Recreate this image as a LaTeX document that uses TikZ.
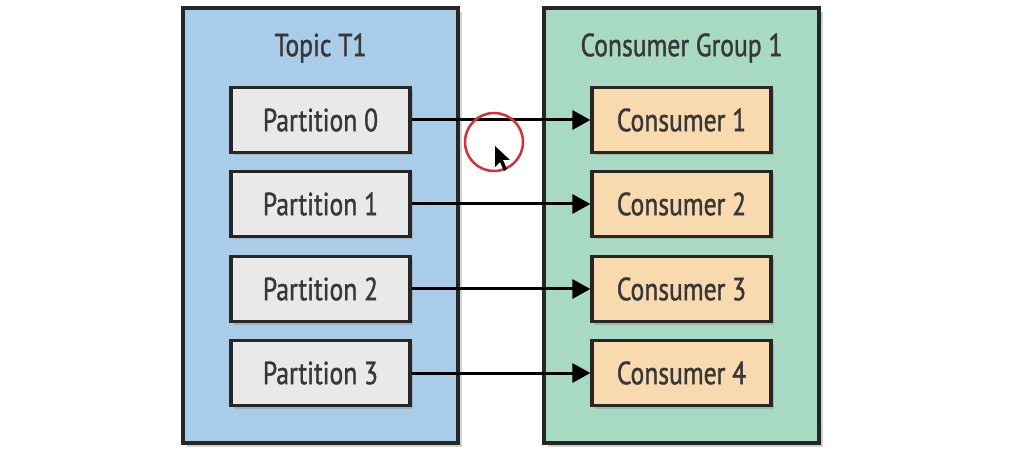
\documentclass[tikz,border=0pt]{standalone}
\usepackage{fontspec}
\setmainfont[FakeStretch=0.8,FakeBold=1.2]{PT Sans}
\usetikzlibrary{shadows,arrows.meta}
\definecolor{topicblue}{HTML}{A9CDE9}
\definecolor{groupgreen}{HTML}{A8D9C2}
\definecolor{partgrey}{HTML}{E9E9E9}
\definecolor{consorange}{HTML}{F9D9AE}
\definecolor{texto}{HTML}{383838}
\definecolor{marca}{HTML}{D8303A}
\begin{document}
\begin{tikzpicture}[x=1pt,y=-1pt,
    grupo/.style={draw=black!85, line width=3.4pt, minimum width=275pt, minimum height=435pt,
      drop shadow={shadow xshift=4pt, shadow yshift=-4pt, opacity=0.35}},
    caja/.style={draw=black!85, line width=3.2pt, minimum width=179pt, minimum height=65pt,
      text=texto, font=\fontsize{32}{34}\selectfont,
      drop shadow={shadow xshift=3pt, shadow yshift=-3pt, opacity=0.35}},
    titulo/.style={text=texto, font=\fontsize{32}{34}\selectfont},
    flecha/.style={draw=black, line width=3pt, -{Triangle[length=18pt,width=19pt]}}]
  \useasboundingbox[fill=white] (0,0) rectangle (1036,462);

  % cajas exteriores
  \node[grupo, fill=topicblue] (topic) at (320.5,225.5) {};
  \node[grupo, fill=groupgreen] (group) at (681.5,225.5) {};
  \node[titulo] (ttopic) at (320.5,48) {Topic T1};
  \node[titulo] (tgroup) at (681.5,48) {Consumer Group 1};

  % particiones y consumidores
  \foreach \i/\y in {0/120,1/204,2/289,3/373} {
    \node[caja, fill=partgrey] (p\i) at (320.5,\y) {Partition \i};
    \pgfmathtruncatemacro{\n}{\i+1}
    \node[caja, fill=consorange] (c\i) at (681.5,\y) {Consumer \n};
    \draw[flecha] (p\i.east) -- (c\i.west);
  }

  % marca del cursor
  \draw[marca, line width=2.5pt] (494,142) circle (29);
  \fill[black] (495,146) -- (495,167) -- (500,162) -- (504,171) -- (507,169)
    -- (503,160) -- (510,160) -- cycle;
\end{tikzpicture}
\end{document}
